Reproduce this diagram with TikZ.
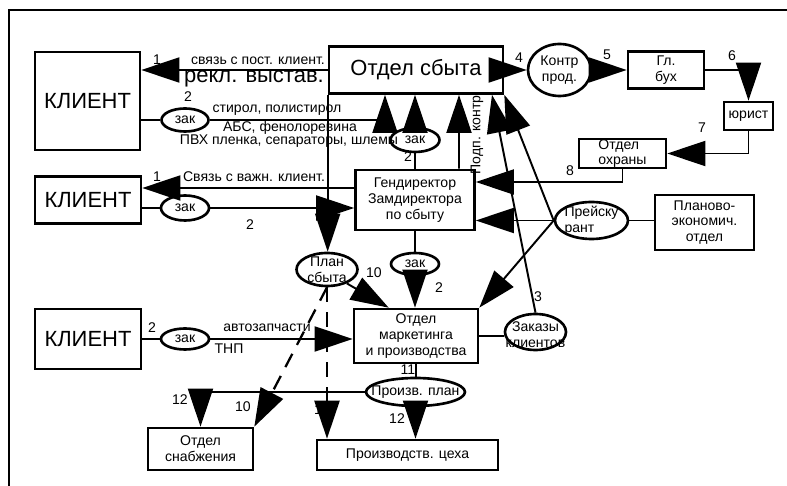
\documentclass[tikz,border=0pt]{standalone}
\usepackage{fontspec}
\setmainfont{Liberation Sans}
\usetikzlibrary{shapes.geometric,arrows.meta}
\newcommand{\smalltxt}{\fontsize{8}{9}\selectfont}
\newcommand{\largetxt}{\fontsize{12.5}{15}\selectfont}

\begin{document}
\begin{tikzpicture}[x=0.2mm, y=-0.2mm, font=\smalltxt, line width=1.1pt,
	>={Triangle[length=0.76cm, width=0.5cm]},
	box/.style={rectangle, draw, line width=1.5pt, align=center, inner sep=0pt},
	oval/.style={ellipse, draw, line width=1.5pt, align=center, inner sep=0pt},
	lbl/.style={inner sep=0pt},
	dashln/.style={line width=1.3pt, dash pattern=on 0.3cm off 0.2cm}]
	\useasboundingbox (0,0) rectangle (787,486);
	\draw[line width=1.5pt] (9,486) -- (9,10) -- (787,10);
	
	% boxes
	\node[box, minimum width=2.1cm, minimum height=1.96cm, font=\largetxt] (klient1) at (87.5,101) {КЛИЕНТ};
	\node[box, minimum width=2.12cm, minimum height=0.94cm, font=\largetxt] (klient2) at (88,200) {КЛИЕНТ};
	\node[box, minimum width=2.12cm, minimum height=1.2cm, font=\largetxt] (klient3) at (88,339) {КЛИЕНТ};
	
	\node[box, minimum width=3.48cm, minimum height=0.94cm, font=\largetxt] (sbyt) at (416,70) {Отдел сбыта};
	\node[box, minimum width=1.52cm, minimum height=0.74cm] (buh) at (666,70) {Гл.\\бух};
	\node[box, minimum width=0.98cm, minimum height=0.56cm] (jurist) at (748.5,116) {юрист};
	\node[box, minimum width=1.74cm, minimum height=0.58cm, align=left] (ohrana) at (622.5,153.5) {Отдел\\охраны};
	\node[box, minimum width=2.38cm, minimum height=1.2cm] (gendir) at (415,200) {Гендиректор\\Замдиректора\\по сбыту};
	\node[box, minimum width=1.98cm, minimum height=1.1cm] (planek) at (704.5,222.5) {Планово-\\экономич.\\отдел};
	\node[box, minimum width=2.48cm, minimum height=1.08cm] (market) at (416,336) {Отдел\\маркетинга\\и производства};
	\node[box, minimum width=2.1cm, minimum height=0.84cm] (snab) at (200.5,449) {Отдел\\снабжения};
	\node[box, minimum width=3.62cm, minimum height=0.6cm] (ceh) at (407.5,455) {Производств. цеха};
	
	% ovals
	\node[oval, minimum width=1.26cm, minimum height=1.04cm] (kontr) at (559.5,70) {Контр\\прод.};
	\node[oval, minimum width=0.94cm, minimum height=0.46cm] (zak1) at (185,120) {зак};
	\node[oval, minimum width=0.98cm, minimum height=0.48cm] (zaktop) at (415,140) {зак};
	\node[oval, minimum width=0.96cm, minimum height=0.5cm] (zak2) at (185,208) {зак};
	\node[oval, minimum width=0.96cm, minimum height=0.44cm] (zakmid) at (415,264) {зак};
	\node[oval, minimum width=0.96cm, minimum height=0.42cm] (zak3) at (185,339) {зак};
	\node[oval, minimum width=1.46cm, minimum height=0.74cm, label={[align=left]center:Прейску\\рант}] (prejs) at (591.5,220.5) {};
	\node[oval, minimum width=1.22cm, minimum height=0.66cm, label={[align=center]center:План\\сбыта}] (plansb) at (327,269.5) {};
	\node[oval, minimum width=1.22cm, minimum height=0.72cm, label={[align=center, yshift=-0.06cm]center:Заказы\\клиентов}] (zakazy) at (535.5,332) {};
	\node[oval, minimum width=1.98cm, minimum height=0.56cm, label={center:Произв. план}] (pplan) at (415.5,392) {};
	
	% Отдел сбыта - клиент
	\draw[->] (sbyt.west) -- (sbyt.west -| klient1.east);
	\node[lbl] (n1a) at (157,60) {1};
	\node[lbl] (t1a) at (258,61) {связь с пост. клиент.};
	\node[lbl, font=\largetxt] (t1b) at (254,79) {рекл. выстав.};
	
	\draw (klient1.east |- zak1.west) -- (zak1.west);
	\draw[->] (zak1.east) -| ([xshift=-0.62cm]sbyt.south);
	\node[lbl] (n2a) at (188,97) {2};
	\node[lbl] (t2a) at (277,110) {стирол, полистирол};
	\node[lbl] (t2b) at (290,128) {АБС, фенолоревина};
	\node[lbl] (t2c) at (289,141) {ПВХ пленка, сепараторы, шлемы};
	
	\draw (gendir.north) -- (zaktop.south);
	\draw[->] (zaktop.north) -- (zaktop.north |- sbyt.south);
	\node[lbl] (n2b) at (408,157) {2};
	
	\draw[->] ([xshift=0.88cm]gendir.north) -- ([xshift=0.86cm]sbyt.south);
	\node[lbl, rotate=90] (t3) at (477,135) {Подп. контр};
	
	\draw[->] (zakazy.north) -- ([xshift=1.52cm]sbyt.south);
	\node[lbl] (n3) at (538,297) {3};
	
	% Прейскурант
	\draw[->] (prejs.west) -- (sbyt.south east);
	\draw[->] (prejs.west) -- (prejs.west -| gendir.east);
	\draw[->] (prejs.west) -- (market.north east);
	\draw (prejs.east) -- (prejs.east -| planek.west);
	
	% контроль договора
	\draw[->] (sbyt.east) -- (kontr.west);
	\draw[->] (kontr.east) -- (buh.west);
	\draw[->] (buh.east) -| (jurist.north);
	\draw[->] (jurist.south) |- (ohrana.east);
	\draw[->] (ohrana.south) |- ([yshift=0.36cm]gendir.east);
	\node[lbl] (n4) at (519,58) {4};
	\node[lbl] (n5) at (607,55) {5};
	\node[lbl] (n6) at (732,56) {6};
	\node[lbl] (n7) at (702,128) {7};
	\node[lbl] (n8) at (570,171) {8};
	
	% Гендиректор - клиент
	\draw[->] ([yshift=0.24cm]gendir.west) -- ([yshift=0.24cm]klient2.east);
	\node[lbl] (n1b) at (157,177) {1};
	\node[lbl] (t1c) at (254,177) {Связь с важн. клиент.};
	
	\draw (klient2.east |- zak2.west) -- (zak2.west);
	\draw[->] (zak2.east) -- (zak2.east -| gendir.west);
	\node[lbl] (n2c) at (250,225) {2};
	
	% План сбыта
	\draw[->] (sbyt.south west) -- (sbyt.south west |- plansb.north);
	\draw[->] (plansb.-35) -- ([xshift=0.72cm]market.north west);
	\node[lbl] (n10a) at (374,273) {10};
	\draw[->, dashln] (plansb.south) -- (snab.north east);
	\draw[->, dashln] (plansb.south) -- (plansb.south |- ceh.north);
	\node[lbl] (n10b) at (243,407) {10};
	\node[lbl] (n1c) at (318,410) {1};
	
	\draw (gendir.south) -- (zakmid.north);
	\draw[->] (zakmid.south) -- (zakmid.south |- market.north);
	\node[lbl] (n2d) at (439,288) {2};
	
	% клиент - маркетинг
	\draw (klient3.east |- zak3.west) -- (zak3.west);
	\draw[->] (zak3.east) -- (zak3.east -| market.west);
	\node[lbl] (n2e) at (152,328) {2};
	\node[lbl] (t4a) at (267,328) {автозапчасти};
	\node[lbl] (t4b) at (229,349) {ТНП};
	
	% маркетинг - производство
	\draw (market.east) -- (market.east -| zakazy.west);
	\draw (market.south) -- (market.south |- pplan.north);
	\draw[->] (pplan.south) -- (pplan.south |- ceh.north);
	\draw[->] (pplan.west) -| (snab.north);
	\node[lbl] (n11) at (408,370) {11};
	\node[lbl] (n12a) at (397,419) {12};
	\node[lbl] (n12b) at (180,400) {12};
\end{tikzpicture}
\end{document}
